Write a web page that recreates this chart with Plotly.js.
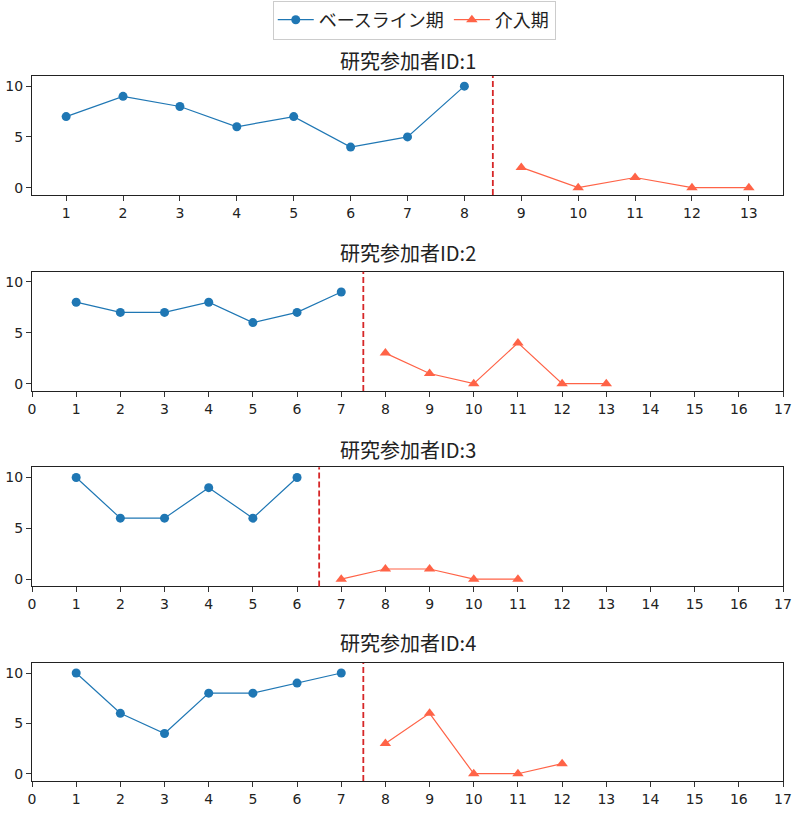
<!DOCTYPE html>
<html>
<head>
<meta charset="utf-8">
<script src="https://cdn.plot.ly/plotly-3.0.1.min.js"></script>
<style>
  html, body { margin: 0; padding: 0; background: #fff; }
  #chart { width: 798px; height: 820px; }
</style>
</head>
<body>
<div id="chart"></div>
<script>
  // participants
  var IDS = [1, 2, 3, 4];

  // baseline sessions / scores
  var BASE_X1 = [1, 2, 3, 4, 5, 6, 7, 8];
  var BASE_Y1 = [7, 9, 8, 6, 7, 4, 5, 10];
  var BASE_X2 = [1, 2, 3, 4, 5, 6, 7];
  var BASE_Y2 = [8, 7, 7, 8, 6, 7, 9];
  var BASE_X3 = [1, 2, 3, 4, 5, 6];
  var BASE_Y3 = [10, 6, 6, 9, 6, 10];
  var BASE_X4 = [1, 2, 3, 4, 5, 6, 7];
  var BASE_Y4 = [10, 6, 4, 8, 8, 9, 10];

  // intervention sessions / scores
  var INT_X1 = [9, 10, 11, 12, 13];
  var INT_Y1 = [2, 0, 1, 0, 0];
  var INT_X2 = [8, 9, 10, 11, 12, 13];
  var INT_Y2 = [3, 1, 0, 4, 0, 0];
  var INT_X3 = [7, 8, 9, 10, 11];
  var INT_Y3 = [0, 1, 1, 0, 0];
  var INT_X4 = [8, 9, 10, 11, 12];
  var INT_Y4 = [3, 6, 0, 0, 1];

  var TICKS_1 = [1, 2, 3, 4, 5, 6, 7, 8, 9, 10, 11, 12, 13];
  var TICKS_ALL = [0, 1, 2, 3, 4, 5, 6, 7, 8, 9, 10, 11, 12, 13, 14, 15, 16, 17];
  var Y_TICKS = [0, 5, 10];

  var BLUE = "#1f77b4";
  var TOMATO = "#ff6347";
  var JP = "Noto Sans CJK JP, sans-serif";

  var baseX = [BASE_X1, BASE_X2, BASE_X3, BASE_X4];
  var baseY = [BASE_Y1, BASE_Y2, BASE_Y3, BASE_Y4];
  var intX = [INT_X1, INT_X2, INT_X3, INT_X4];
  var intY = [INT_Y1, INT_Y2, INT_Y3, INT_Y4];

  var domains = [
    [0.7622, 0.9073],
    [0.5232, 0.6687],
    [0.2848, 0.4301],
    [0.0476, 0.1915]
  ];
  var titleY = [0.9268, 0.6915, 0.4524, 0.2159];

  var traces = [];
  var shapes = [];
  var annotations = [];
  var layout = {
    width: 798,
    height: 820,
    margin: { l: 32, r: 15, t: 0, b: 0 },
    paper_bgcolor: "#fff",
    plot_bgcolor: "#fff",
    showlegend: true,
    legend: {
      orientation: "h",
      x: 0.509,
      xanchor: "center",
      y: 0.9756,
      yanchor: "middle",
      bordercolor: "#cccccc",
      borderwidth: 1,
      font: { family: JP, size: 18, color: "#222" },
      itemwidth: 36
    },
    font: { family: "DejaVu Sans, sans-serif", size: 14, color: "#222" }
  };

  IDS.forEach(function (id, i) {
    var n = i === 0 ? "" : String(i + 1);
    var xa = "x" + n, ya = "y" + n;

    traces.push({
      x: baseX[i], y: baseY[i],
      xaxis: xa, yaxis: ya,
      type: "scatter", mode: "lines+markers",
      name: "ベースライン期",
      legendgroup: "base",
      showlegend: i === 0,
      line: { color: BLUE, width: 1.2 },
      marker: { color: BLUE, size: 9, symbol: "circle" }
    });
    traces.push({
      x: intX[i], y: intY[i],
      xaxis: xa, yaxis: ya,
      type: "scatter", mode: "lines+markers",
      name: "介入期",
      legendgroup: "int",
      showlegend: i === 0,
      line: { color: TOMATO, width: 1.2 },
      marker: { color: TOMATO, size: 10, symbol: "triangle-up" }
    });

    // phase change line between last baseline and first intervention session
    var bx = baseX[i];
    var phase = bx[bx.length - 1] + 0.5;
    shapes.push({
      type: "line",
      xref: xa, yref: ya + " domain",
      x0: phase, x1: phase, y0: 0, y1: 1,
      line: { color: "#d62728", width: 1.8, dash: "6px,3px" }
    });

    annotations.push({
      text: "研究参加者ID:" + id,
      xref: "paper", yref: "paper",
      x: 0.5, y: titleY[i],
      xanchor: "center", yanchor: "middle",
      showarrow: false,
      font: { family: JP, size: 20, color: "#222" }
    });

    layout["xaxis" + n] = {
      domain: [0, 1],
      anchor: ya,
      range: i === 0 ? [0.4, 13.6] : [0, 17],
      tickvals: i === 0 ? TICKS_1 : TICKS_ALL,
      ticks: "outside",
      ticklen: 5,
      tickcolor: "#333",
      showline: true,
      mirror: true,
      linecolor: "#222",
      linewidth: 1,
      showgrid: false,
      zeroline: false,
      tickfont: { family: "DejaVu Sans, sans-serif", size: 14, color: "#222" }
    };
    layout["yaxis" + n] = {
      domain: domains[i],
      anchor: xa,
      range: [-0.72, 11],
      tickvals: Y_TICKS,
      ticks: "outside",
      ticklen: 5,
      tickcolor: "#333",
      showline: true,
      mirror: true,
      linecolor: "#222",
      linewidth: 1,
      showgrid: false,
      zeroline: false,
      tickfont: { family: "DejaVu Sans, sans-serif", size: 14, color: "#222" }
    };
  });

  layout.shapes = shapes;
  layout.annotations = annotations;

  Plotly.newPlot("chart", traces, layout, { displayModeBar: false, staticPlot: true });
</script>
</body>
</html>
